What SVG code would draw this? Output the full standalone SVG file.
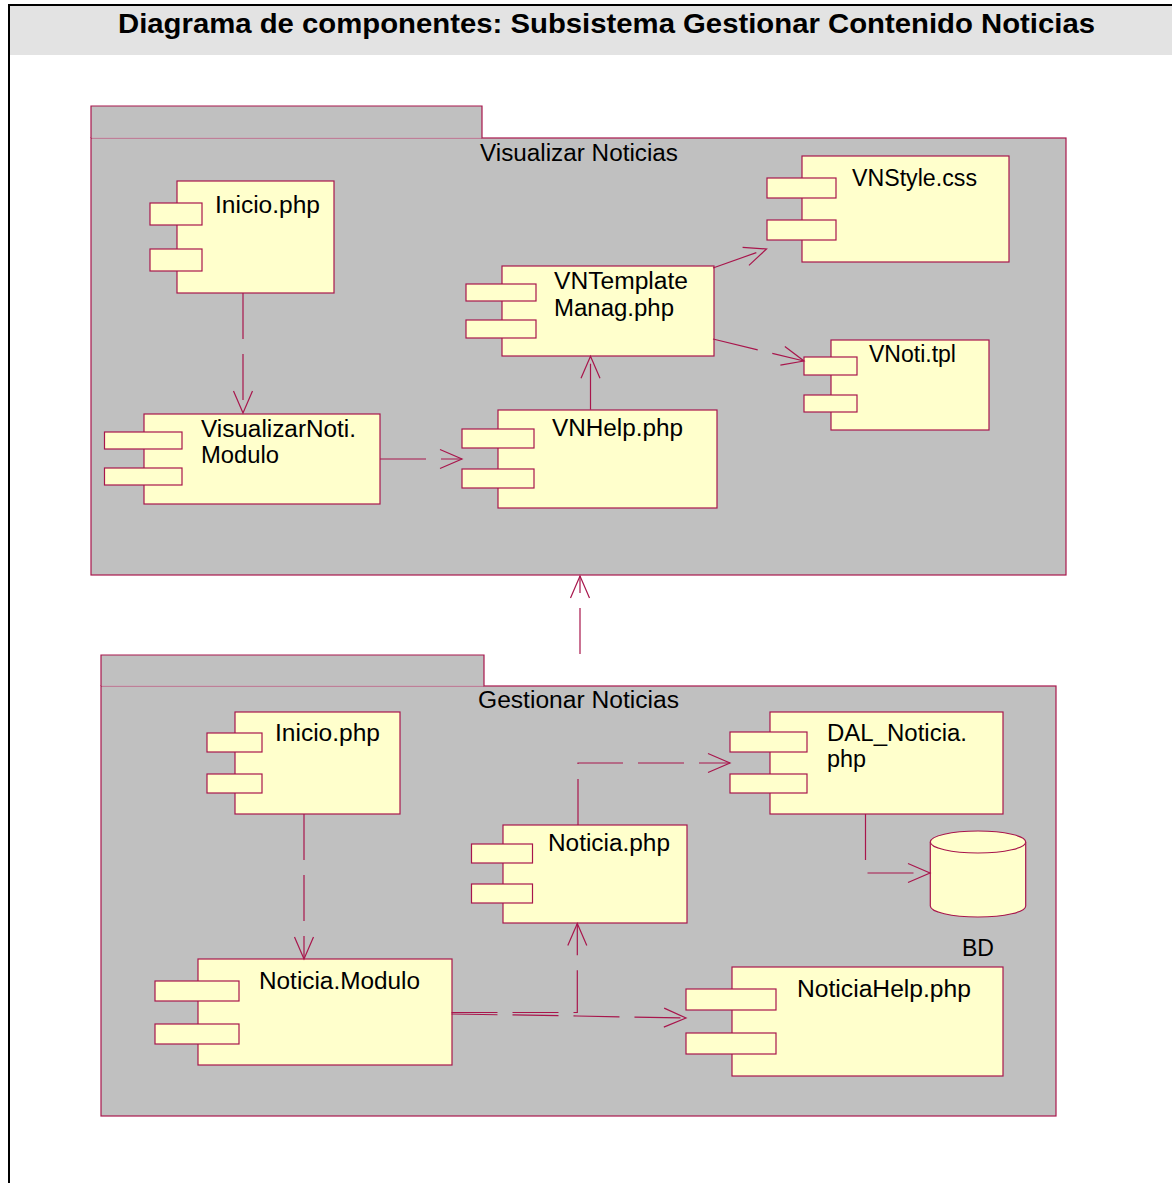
<svg xmlns="http://www.w3.org/2000/svg" width="1172" height="1183" viewBox="0 0 1172 1183">
  <style>
    .pkg { fill: #c0c0c0; stroke: #a8164c; stroke-width: 1.2; }
    .sep { stroke: #c9a6b6; stroke-width: 1; }
    .body { fill: #ffffcc; stroke: #a8164c; stroke-width: 1.2; }
    .port { fill: #ffffcc; stroke: #a8164c; stroke-width: 1.2; }
    .lbl { font-family: "Liberation Sans", Arial, sans-serif; font-size: 23px; fill: #000; }
    .title { font-family: "Liberation Sans", Arial, sans-serif; font-size: 28px; font-weight: bold; fill: #000; }
    .dep { fill: none; stroke: #a8164c; stroke-width: 1.2; stroke-dasharray: 46 15; marker-end: url(#open); }
  </style>
  <defs>
    <marker id="open" markerUnits="userSpaceOnUse" viewBox="-24 -12 26 24" markerWidth="26" markerHeight="24" refX="0" refY="0" orient="auto" overflow="visible">
      <path d="M-22,-9.5 L0,0 L-22,9.5" fill="none" stroke="#a8164c" stroke-width="1.2"/>
    </marker>
  </defs>

  <!-- page frame and title band -->
  <rect x="0" y="0" width="1172" height="1183" fill="#ffffff"/>
  <rect x="10" y="6" width="1162" height="49" fill="#e3e3e3"/>
  <line x1="8" y1="5" x2="1172" y2="5" stroke="#000" stroke-width="2"/>
  <line x1="9" y1="4" x2="9" y2="1183" stroke="#000" stroke-width="2"/>
  <text class="title" x="118" y="33" textLength="977" lengthAdjust="spacingAndGlyphs">Diagrama de componentes: Subsistema Gestionar Contenido Noticias</text>

  <!-- package: Visualizar Noticias -->
  <g id="pkg-visualizar">
    <rect class="pkg" x="91" y="138" width="975" height="437"/>
    <path class="pkg" d="M91,138 V106 H482 V138"/>
    <line class="sep" x1="92" y1="138" x2="481" y2="138"/>
    <text class="lbl" x="480" y="161" textLength="198" lengthAdjust="spacingAndGlyphs">Visualizar Noticias</text>
  </g>

  <!-- package: Gestionar Noticias -->
  <g id="pkg-gestionar">
    <rect class="pkg" x="101" y="686" width="955" height="430"/>
    <path class="pkg" d="M101,686 V655 H484 V686"/>
    <line class="sep" x1="102" y1="686" x2="483" y2="686"/>
    <text class="lbl" x="478" y="708" textLength="201" lengthAdjust="spacingAndGlyphs">Gestionar Noticias</text>
  </g>

  <!-- components of Visualizar Noticias -->
  <g id="v-inicio">
    <rect class="body" x="177" y="181" width="157" height="112"/>
    <rect class="port" x="150" y="203" width="52" height="22"/>
    <rect class="port" x="150" y="249" width="52" height="22"/>
    <text class="lbl" x="215" y="213" textLength="105" lengthAdjust="spacingAndGlyphs">Inicio.php</text>
  </g>
  <g id="v-vnstyle">
    <rect class="body" x="802" y="156" width="207" height="106"/>
    <rect class="port" x="767" y="178" width="69" height="20"/>
    <rect class="port" x="767" y="220" width="69" height="20"/>
    <text class="lbl" x="852" y="186" textLength="125" lengthAdjust="spacingAndGlyphs">VNStyle.css</text>
  </g>
  <g id="v-vntemplate">
    <rect class="body" x="502" y="266" width="212" height="90"/>
    <rect class="port" x="466" y="284" width="70" height="17"/>
    <rect class="port" x="466" y="320" width="70" height="18"/>
    <text class="lbl" x="554" y="289" textLength="134" lengthAdjust="spacingAndGlyphs">VNTemplate</text>
    <text class="lbl" x="554" y="316" textLength="120" lengthAdjust="spacingAndGlyphs">Manag.php</text>
  </g>
  <g id="v-vnoti">
    <rect class="body" x="831" y="340" width="158" height="90"/>
    <rect class="port" x="804" y="357" width="53" height="18"/>
    <rect class="port" x="804" y="395" width="53" height="17"/>
    <text class="lbl" x="869" y="362" textLength="87" lengthAdjust="spacingAndGlyphs">VNoti.tpl</text>
  </g>
  <g id="v-modulo">
    <rect class="body" x="144" y="414" width="236" height="90"/>
    <rect class="port" x="104.5" y="432" width="77.5" height="17"/>
    <rect class="port" x="104.5" y="468" width="77.5" height="17"/>
    <text class="lbl" x="201" y="437" textLength="155" lengthAdjust="spacingAndGlyphs">VisualizarNoti.</text>
    <text class="lbl" x="201" y="463" textLength="78" lengthAdjust="spacingAndGlyphs">Modulo</text>
  </g>
  <g id="v-vnhelp">
    <rect class="body" x="498" y="410" width="219" height="98"/>
    <rect class="port" x="462" y="429" width="72" height="19"/>
    <rect class="port" x="462" y="469" width="72" height="19"/>
    <text class="lbl" x="552" y="436" textLength="131" lengthAdjust="spacingAndGlyphs">VNHelp.php</text>
  </g>

  <!-- components of Gestionar Noticias -->
  <g id="g-inicio">
    <rect class="body" x="235" y="712" width="165" height="102"/>
    <rect class="port" x="207" y="733" width="55" height="19"/>
    <rect class="port" x="207" y="774" width="55" height="19"/>
    <text class="lbl" x="275" y="741" textLength="105" lengthAdjust="spacingAndGlyphs">Inicio.php</text>
  </g>
  <g id="g-dal">
    <rect class="body" x="770" y="712" width="233" height="102"/>
    <rect class="port" x="730" y="732" width="77" height="20"/>
    <rect class="port" x="730" y="774" width="77" height="19"/>
    <text class="lbl" x="827" y="741" textLength="140" lengthAdjust="spacingAndGlyphs">DAL_Noticia.</text>
    <text class="lbl" x="827" y="767" textLength="39" lengthAdjust="spacingAndGlyphs">php</text>
  </g>
  <g id="g-noticia">
    <rect class="body" x="503" y="825" width="184" height="98"/>
    <rect class="port" x="471.5" y="844" width="61" height="19"/>
    <rect class="port" x="471.5" y="884" width="61" height="19"/>
    <text class="lbl" x="548" y="851" textLength="122" lengthAdjust="spacingAndGlyphs">Noticia.php</text>
  </g>
  <g id="g-bd">
    <path class="body" d="M930.3,842 V906 A47.7,11 0 0 0 1025.7,906 V842"/>
    <ellipse class="body" cx="978" cy="842" rx="47.7" ry="11"/>
    <text class="lbl" x="962" y="956" textLength="32" lengthAdjust="spacingAndGlyphs">BD</text>
  </g>
  <g id="g-modulo">
    <rect class="body" x="198" y="959" width="254" height="106"/>
    <rect class="port" x="155" y="981" width="84" height="20"/>
    <rect class="port" x="155" y="1024" width="84" height="20"/>
    <text class="lbl" x="259" y="989" textLength="161" lengthAdjust="spacingAndGlyphs">Noticia.Modulo</text>
  </g>
  <g id="g-noticiahelp">
    <rect class="body" x="732" y="967" width="271" height="109"/>
    <rect class="port" x="686" y="989" width="90" height="21"/>
    <rect class="port" x="686" y="1033" width="90" height="21"/>
    <text class="lbl" x="797" y="997" textLength="174" lengthAdjust="spacingAndGlyphs">NoticiaHelp.php</text>
  </g>

  <!-- dependencies -->
  <g id="connectors">
    <path class="dep" d="M243,293 V413"/>
    <path class="dep" d="M380,459 H462"/>
    <path class="dep" d="M590.5,409.7 V356.3"/>
    <path class="dep" d="M713,268 L766.5,249"/>
    <path class="dep" d="M713,339 L804,361"/>
    <path class="dep" d="M580,654 V576"/>
    <path class="dep" d="M304,814 V959"/>
    <path class="dep" d="M578,825 V763 H730"/>
    <path class="dep" d="M865.5,814 V873 H930"/>
    <path class="dep" d="M451.5,1012.5 H577.3 V923.5"/>
    <path class="dep" d="M451.5,1014 L577,1016 L686,1018"/>
  </g>
</svg>
